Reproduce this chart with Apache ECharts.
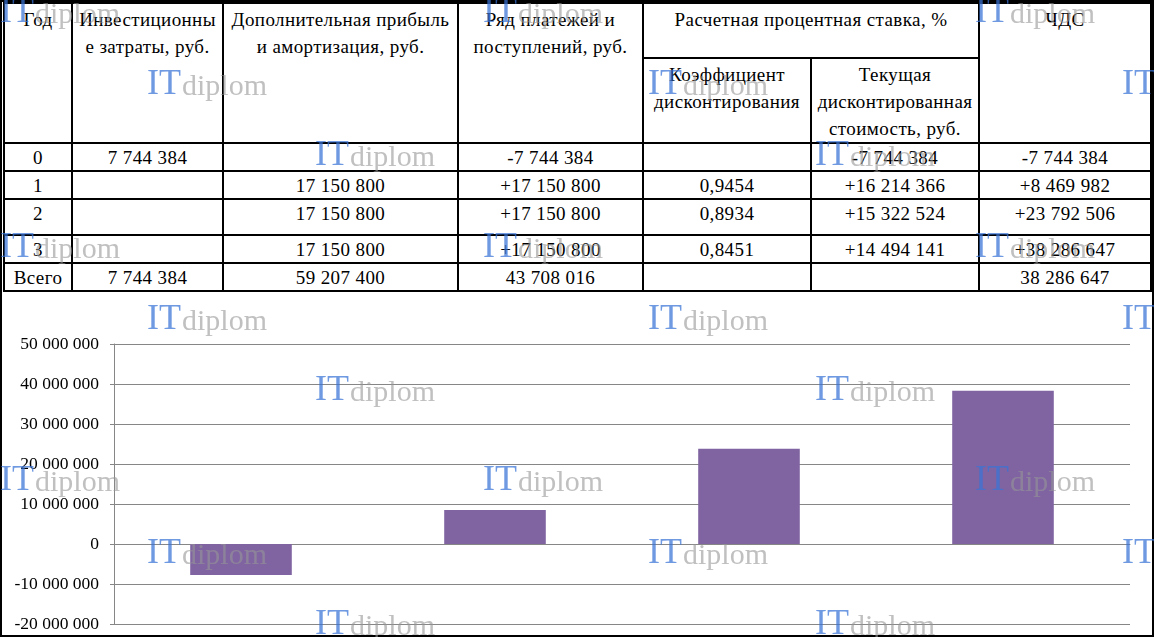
<!DOCTYPE html>
<html>
<head>
<meta charset="utf-8">
<script src="https://cdn.jsdelivr.net/npm/echarts@6/dist/echarts.min.js"></script>
<style>
  html, body { margin: 0; padding: 0; background: #fff; }
  body { width: 1154px; height: 637px; position: relative; overflow: hidden; }
  #frame { position: absolute; left: 0; top: 0; width: 1154px; height: 637px;
    border: 2px solid #000; box-sizing: border-box; }
  #tbl { position: absolute; left: 3px; top: 2px; width: 1147px;
    border-collapse: collapse; table-layout: fixed;
    font-family: "Liberation Serif", "Times New Roman", serif; font-size: 19px; letter-spacing: 0.4px;
    color: #000; }
  #tbl td, #tbl th { border: 2px solid #000; padding: 0; text-align: center; vertical-align: top;
    white-space: nowrap; font-weight: normal; overflow: hidden; }
  #tbl th { padding-top: 2px; line-height: 27px; }
  #tbl td { padding-top: 1px; line-height: 25px; }
  #chart { position: absolute; left: 0; top: 0; width: 1154px; height: 637px; z-index: 2; pointer-events: none; }
</style>
</head>
<body>
<div id="frame"></div>
<table id="tbl"></table>
<div id="chart"></div>
<script>
// table data
const rowLabels = ["0", "1", "2", "3", "Всего"];
const investCosts = ["7 744 384", "", "", "", "7 744 384"];
const extraProfit = ["", "17 150 800", "17 150 800", "17 150 800", "59 207 400"];
const cashFlows = ["-7 744 384", "+17 150 800", "+17 150 800", "+17 150 800", "43 708 016"];
const discountFactors = ["", "0,9454", "0,8934", "0,8451", ""];
const presentValues = ["-7 744 384", "+16 214 366", "+15 322 524", "+14 494 141", ""];
const npvTexts = ["-7 744 384", "+8 469 982", "+23 792 506", "+38 286 647", "38 286 647"];

// chart data
const years = ["0", "1", "2", "3"];
const npvValues = [-7744384, 8469982, 23792506, 38286647];

function buildTable() {
  let colWidths = [68, 151, 235, 185, 168, 168, 172];
  let rowHeights = [27, 27, 36, 27, 26];
  let html = "<colgroup>";
  colWidths.forEach((w) => { html += `<col style="width:${w}px">`; });
  html += "</colgroup>";
  html += '<tr style="height:55px">' +
    '<th rowspan="2">Год</th>' +
    '<th rowspan="2">Инвестиционны<br>е затраты, руб.</th>' +
    '<th rowspan="2">Дополнительная прибыль<br>и амортизация, руб.</th>' +
    '<th rowspan="2">Ряд платежей и<br>поступлений, руб.</th>' +
    '<th colspan="2">Расчетная процентная ставка, %</th>' +
    '<th rowspan="2">ЧДС</th></tr>';
  html += '<tr style="height:83px">' +
    '<th>Коэффициент<br>дисконтирования</th>' +
    '<th>Текущая<br>дисконтированная<br>стоимость, руб.</th></tr>';
  rowLabels.forEach((label, i) => {
    html += `<tr style="height:${rowHeights[i]}px">` +
      `<td>${label}</td><td>${investCosts[i]}</td><td>${extraProfit[i]}</td>` +
      `<td>${cashFlows[i]}</td><td>${discountFactors[i]}</td>` +
      `<td>${presentValues[i]}</td><td>${npvTexts[i]}</td></tr>`;
  });
  document.getElementById("tbl").innerHTML = html;
}

function formatNumber(v) {
  let s = String(Math.abs(v)).replace(/\B(?=(\d{3})+(?!\d))/g, " ");
  return (v < 0 ? "-" : "") + s;
}

function watermarks() {
  // [x, baseline]
  let spots = [
    [0, 25], [483, 25], [975, 25],
    [147, 97], [648, 97], [1122, 97],
    [315, 168], [815, 168],
    [0, 260], [483, 260], [975, 260],
    [147, 332], [648, 332], [1122, 332],
    [315, 403], [815, 403],
    [0, 493], [483, 493], [975, 493],
    [147, 566], [648, 566], [1122, 566],
    [315, 637], [815, 637],
  ];
  let items = [];
  spots.forEach((p) => {
    items.push({
      type: "text", x: p[0], y: p[1] - 12, z: 100, silent: true,
      style: { text: "IT", font: '36px "Liberation Serif"', fill: "rgba(55,115,215,0.72)", verticalAlign: "middle" },
    });
    items.push({
      type: "text", x: p[0] + 35, y: p[1] - 10, z: 100, silent: true,
      style: { text: "diplom", font: '30px "Liberation Serif"', fill: "rgba(150,150,150,0.6)", verticalAlign: "middle" },
    });
  });
  return items;
}

function createChart() {
  let dom = document.getElementById("chart");
  let myChart = echarts.init(dom, null, { renderer: "canvas" });
  let option = {
    backgroundColor: "transparent",
    animation: false,
    grid: { left: 114, right: 24, top: 344, bottom: 13, containLabel: false },
    xAxis: {
      type: "category",
      data: years,
      axisLabel: { show: false },
      axisTick: { show: false },
      axisLine: { lineStyle: { color: "#868686", width: 1 } },
    },
    yAxis: {
      type: "value",
      min: -20000000,
      max: 50000000,
      interval: 10000000,
      axisLine: { show: true, lineStyle: { color: "#868686", width: 1 } },
      axisTick: { show: true, length: 4, lineStyle: { color: "#868686" } },
      splitLine: { show: true, lineStyle: { color: "#868686", width: 1 } },
      axisLabel: {
        color: "#000",
        fontFamily: "Liberation Serif",
        fontSize: 17.5,
        margin: 15,
        formatter: formatNumber,
      },
    },
    series: [
      {
        type: "bar",
        data: npvValues,
        barWidth: "40%",
        itemStyle: { color: "#8064A2" },
      },
    ],
    graphic: watermarks(),
  };
  myChart.setOption(option);
}

buildTable();
createChart();
</script>
</body>
</html>
